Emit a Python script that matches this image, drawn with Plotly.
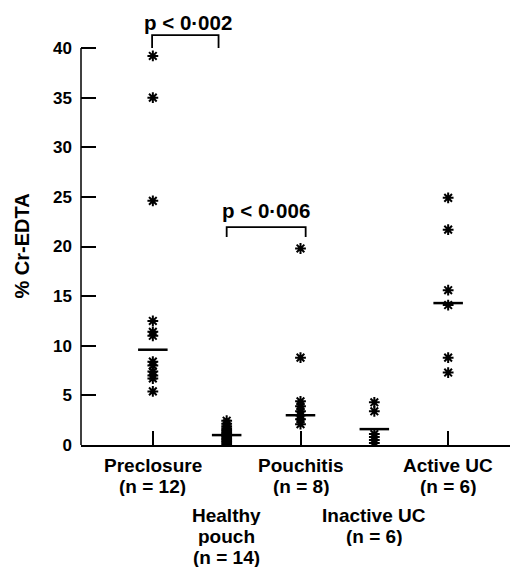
import plotly.graph_objects as go

category_lines = [["Preclosure", "(n = 12)"], ["Healthy", "pouch", "(n = 14)"], ["Pouchitis", "(n = 8)"],
                  ["Inactive UC", "(n = 6)"], ["Active UC", "(n = 6)"]]
preclosure = [39.2, 35.0, 24.6, 12.5, 11.4, 11.0, 8.4, 8.0, 7.4, 7.0, 6.7, 5.4]
healthy_pouch = [0.1, 0.3, 0.45, 0.6, 0.75, 0.9, 1.05, 1.2, 1.35, 1.5, 1.7, 1.9, 2.15, 2.45]
pouchitis = [19.8, 8.8, 4.4, 3.9, 3.4, 3.0, 2.6, 2.1]
inactive_uc = [4.3, 3.4, 1.1, 0.8, 0.5, 0.2]
active_uc = [24.9, 21.7, 15.6, 14.1, 8.8, 7.3]
medians = [9.6, 1.0, 3.0, 1.6, 14.3]
y_ticks = [0, 5, 10, 15, 20, 25, 30, 35, 40]
comparisons = [(0, 1, "p < 0·002"), (1, 2, "p < 0·006")]

groups = [preclosure, healthy_pouch, pouchitis, inactive_uc, active_uc]
FONT = "Liberation Sans, Arial, sans-serif"

fig = go.Figure()
for i, vals in enumerate(groups):
    fig.add_trace(go.Scatter(
        x=[i] * len(vals), y=vals, mode="markers",
        marker=dict(symbol="asterisk-open", size=9, color="black",
                    line=dict(color="black", width=2)),
        showlegend=False, hoverinfo="y"))
    fig.add_shape(type="line", x0=i - 0.2, x1=i + 0.2, y0=medians[i], y1=medians[i],
                  line=dict(color="black", width=2.5), layer="above")

# y-axis line from 0 to 40
fig.add_shape(type="line", xref="paper", x0=0, x1=0, y0=0, y1=40,
              line=dict(color="black", width=1.5))

# brackets
bracket_geo = [
    dict(xl=-0.01, xr=0.89, top=41.3, bot=40.0, tx=0.47, ty=42.6),
    dict(xl=1.0, xr=2.07, top=21.95, bot=20.95, tx=1.53, ty=23.6),
]
for (a, b, label), g in zip(comparisons, bracket_geo):
    fig.add_trace(go.Scatter(
        x=[g["xl"], g["xl"], g["xr"], g["xr"]],
        y=[g["bot"], g["top"], g["top"], g["bot"]],
        mode="lines", line=dict(color="black", width=1.8),
        showlegend=False, hoverinfo="skip"))
    fig.add_annotation(x=g["tx"], y=g["ty"], text="<b>" + label + "</b>", showarrow=False,
                       font=dict(family=FONT, size=20.5, color="black"))

# category labels (staggered), one annotation per line
first_line_center = [465, 515, 465, 515, 465]
line_step = 21
for i, lines in enumerate(category_lines):
    for k, txt in enumerate(lines):
        cy = first_line_center[i] + k * line_step
        fig.add_annotation(x=i, xref="x", y=0, yref="paper", yanchor="middle",
                           yshift=-(cy - 445), text="<b>" + txt + "</b>", showarrow=False,
                           height=20, valign="middle", borderpad=0,
                           font=dict(family=FONT, size=19, color="black"))

# y-axis title
fig.add_annotation(x=0, xref="paper", xshift=-59, y=20, yref="y", text="<b>% Cr-EDTA</b>",
                   textangle=-90, showarrow=False, xanchor="center", yanchor="middle",
                   font=dict(family=FONT, size=20, color="black"))

# page has an 8px body margin: figure is 8px smaller and shifted accordingly
fig.update_layout(
    width=510, height=560,
    margin=dict(l=73, r=0, t=2, b=123, autoexpand=False),
    plot_bgcolor="white", paper_bgcolor="white",
    font=dict(family=FONT, color="black"),
    xaxis=dict(range=[-0.973, 4.946], tickvals=[0, 2, 4], ticktext=["", "", ""],
               ticks="inside", ticklen=14, tickwidth=1.5, tickcolor="black",
               showline=True, linecolor="black", linewidth=1.5, automargin=False,
               showgrid=False, zeroline=False),
    yaxis=dict(range=[0, 43.83], tickvals=y_ticks, ticktext=["<b>%d</b>" % v for v in y_ticks],
               ticks="inside", ticklen=15,
               tickwidth=1.5, tickcolor="black", showline=False, automargin=False,
               showgrid=False, zeroline=False, ticklabelstandoff=8,
               tickfont=dict(family=FONT, size=17, color="black")),
)
fig.write_html("out.html")
